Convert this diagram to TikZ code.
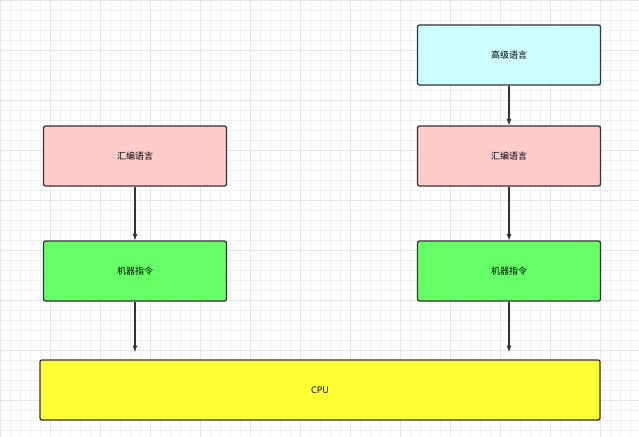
\documentclass[tikz,border=0pt]{standalone}
\usepackage{fontspec}
\setmainfont{Noto Sans CJK SC}
\usetikzlibrary{positioning}
\definecolor{hlcyan}{HTML}{CCFFFF}
\definecolor{hlpink}{HTML}{FFCCCC}
\definecolor{hlgreen}{HTML}{66FF66}
\definecolor{hlyellow}{HTML}{FFFF33}
\definecolor{edge}{HTML}{333333}
\tikzstyle{lbox} = [draw=edge, line width=1.3pt, rectangle, rounded corners=2pt,
    minimum width=183pt, minimum height=60pt, inner sep=0pt, font=\fontsize{9}{11}\selectfont]
\tikzstyle{flow} = [draw=edge, line width=1.2pt, -latex]
\begin{document}
\begin{tikzpicture}[x=1pt, y=-1pt]
                \useasboundingbox (0,0) rectangle (639,436);
                \draw[black!6, line width=0.4pt, step=10pt] (0,0) grid (639,436);
                \draw[black!10, line width=0.5pt, step=50pt] (0,0) grid (639,436);
                \node [lbox, fill=hlcyan] (high) at (509,55) {高级语言};
                \node [lbox, fill=hlpink] (asmL) at (135,156) {汇编语言};
                \node [lbox, fill=hlpink] (asmR) at (509,156) {汇编语言};
                \node [lbox, fill=hlgreen] (machL) at (135,271) {机器指令};
                \node [lbox, fill=hlgreen] (machR) at (509,271) {机器指令};
                \node [lbox, fill=hlyellow, minimum width=560pt] (cpu) at (320,390) {CPU};
                \coordinate (endL) at (135,352);
                \coordinate (endR) at (509,352);
                \draw [flow] (high) -- (asmR);
                \draw [flow] (asmL) -- (machL);
                \draw [flow] (asmR) -- (machR);
                \draw [flow] (machL) -- (endL);
                \draw [flow] (machR) -- (endR);
            \end{tikzpicture}
\end{document}
